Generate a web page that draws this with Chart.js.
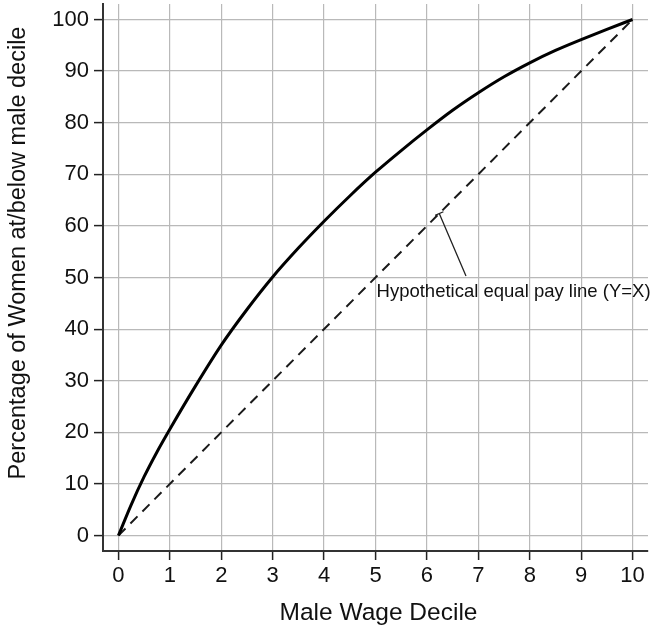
<!DOCTYPE html>
<html>
<head>
<meta charset="utf-8">
<script src="https://cdn.jsdelivr.net/npm/chart.js@4/dist/chart.umd.min.js"></script>
<style>
  html, body { margin: 0; padding: 0; background: #fff; }
  canvas { display: block; }
</style>
</head>
<body>
<canvas id="c" width="653" height="625"></canvas>
<script>
// Cumulative share of women earning at or below each male wage decile
const deciles    = [0, 0.25, 0.5, 0.75, 1, 1.5, 2, 2.5, 3, 3.5, 4, 4.5, 5, 5.5, 6, 6.5, 7, 7.5, 8, 8.5, 9, 9.5, 10];
const womenShare = [0, 6, 11.4, 16.2, 20.6, 29.0, 36.9, 43.8, 50.1, 55.7, 60.9, 65.8, 70.4, 74.6, 78.6, 82.4, 85.8, 88.9, 91.6, 94.0, 96.1, 98.1, 100];

// Reference line where the shares would be equal (Y = X)
const equalX = [0, 10];
const equalY = [0, 100];

const xTicks = [0, 1, 2, 3, 4, 5, 6, 7, 8, 9, 10];
const yTicks = [0, 10, 20, 30, 40, 50, 60, 70, 80, 90, 100];

const xTitle = 'Male Wage Decile';
const yTitle = 'Percentage of Women at/below male decile';
const noteText = 'Hypothetical equal pay line (Y=X)';

const FONT = '"Liberation Sans", Arial, Helvetica, sans-serif';

const toPoints = (xs, ys) => xs.map((x, i) => ({ x, y: ys[i] }));

// Axis titles and the callout for the dashed line
const decorations = {
  id: 'decorations',
  afterDraw(chart) {
    const { ctx, chartArea, scales } = chart;
    const xs = scales.x, ys = scales.y;
    ctx.save();
    ctx.fillStyle = '#111';

    // x title
    ctx.font = '24.5px ' + FONT;
    ctx.textAlign = 'center';
    ctx.textBaseline = 'alphabetic';
    ctx.fillText(xTitle, (chartArea.left + chartArea.right) / 2 + 3, 620);

    // y title (rotated)
    ctx.save();
    ctx.font = '23.5px ' + FONT;
    ctx.translate(25, 253);
    ctx.rotate(-Math.PI / 2);
    ctx.fillText(yTitle, 0, 0);
    ctx.restore();

    // callout leader: starts on the Y=X line, ends above the label
    const tipV = 6.24;
    const x0 = xs.getPixelForValue(tipV), y0 = ys.getPixelForValue(tipV * 10);
    const x1 = xs.getPixelForValue(6.76), y1 = ys.getPixelForValue(50.3);
    ctx.strokeStyle = '#222';
    ctx.lineWidth = 1.3;
    ctx.beginPath();
    ctx.moveTo(x0, y0);
    ctx.lineTo(x1, y1);
    // small cross-bar at the tip
    const dx = x1 - x0, dy = y1 - y0, len = Math.hypot(dx, dy);
    const px = -dy / len * 4.5, py = dx / len * 4.5;
    ctx.moveTo(x0 - px, y0 - py);
    ctx.lineTo(x0 + px, y0 + py);
    ctx.stroke();

    ctx.font = '18.5px ' + FONT;
    ctx.textAlign = 'left';
    ctx.fillText(noteText, xs.getPixelForValue(5.02), ys.getPixelForValue(46.3));
    ctx.restore();
  }
};

new Chart(document.getElementById('c'), {
  type: 'scatter',
  data: {
    datasets: [
      {
        label: 'Women at/below male decile',
        data: toPoints(deciles, womenShare),
        showLine: true,
        borderColor: '#000',
        borderWidth: 3,
        pointRadius: 0,
        cubicInterpolationMode: 'monotone',
        order: 1
      },
      {
        label: noteText,
        data: toPoints(equalX, equalY),
        showLine: true,
        borderColor: '#1a1a1a',
        borderWidth: 2,
        borderDash: [10, 7],
        pointRadius: 0,
        order: 2
      }
    ]
  },
  options: {
    responsive: false,
    animation: false,
    layout: { padding: { left: 0, right: 5, top: 4, bottom: 0 } },
    plugins: { legend: { display: false }, tooltip: { enabled: false } },
    scales: {
      x: {
        type: 'linear',
        min: -0.3,
        max: 10.3,
        afterBuildTicks(scale) { scale.ticks = xTicks.map(v => ({ value: v })); },
        afterFit(scale) { scale.height = 74; scale.paddingLeft = 0; scale.paddingRight = 0; },
        grid: { color: '#b9b9b9', lineWidth: 1.2, tickColor: '#222', tickLength: 9, tickWidth: 1.5 },
        border: { display: true, color: '#333', width: 2 },
        ticks: { color: '#111', font: { family: FONT, size: 22 }, padding: 3, maxRotation: 0, autoSkip: false }
      },
      y: {
        type: 'linear',
        min: -3,
        max: 103,
        afterBuildTicks(scale) { scale.ticks = yTicks.map(v => ({ value: v })); },
        afterFit(scale) { scale.width = 103; scale.paddingTop = 0; scale.paddingBottom = 0; },
        grid: { color: '#b9b9b9', lineWidth: 1.2, tickColor: '#222', tickLength: 9, tickWidth: 1.5 },
        border: { display: true, color: '#333', width: 2 },
        ticks: { color: '#111', font: { family: FONT, size: 22 }, padding: 5, autoSkip: false }
      }
    }
  },
  plugins: [decorations]
});
</script>
</body>
</html>
